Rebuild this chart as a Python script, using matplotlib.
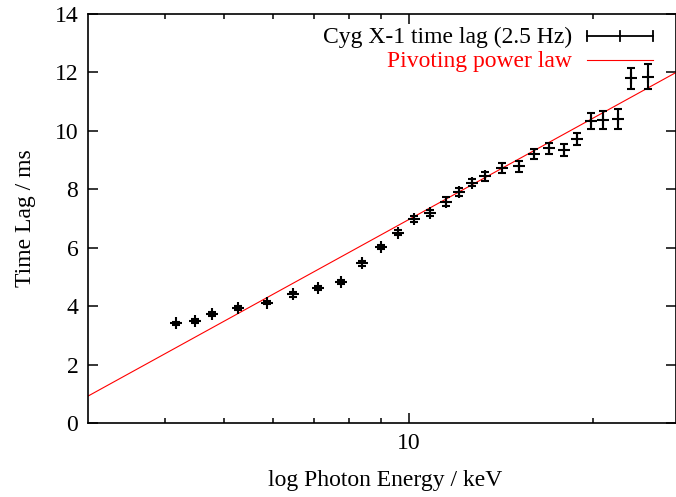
import matplotlib
matplotlib.use("Agg")
import matplotlib.pyplot as plt
import numpy as np
from matplotlib.ticker import FixedLocator, NullFormatter, FixedFormatter

# Cyg X-1 time lag at 2.5 Hz versus photon energy
energy_kev = [4.18, 4.49, 4.78, 5.26, 5.87, 6.49, 7.11, 7.76, 8.39, 9.00,
              9.62, 10.22, 10.84, 11.50, 12.09, 12.71, 13.33, 14.19, 15.14,
              16.02, 16.95, 17.94, 18.81, 19.85, 20.79, 21.94, 23.07, 24.56]
lag_ms = [3.41, 3.50, 3.72, 3.93, 4.12, 4.40, 4.61, 4.84, 5.47, 6.02,
          6.52, 6.99, 7.19, 7.58, 7.92, 8.23, 8.45, 8.72, 8.78,
          9.21, 9.41, 9.35, 9.72, 10.34, 10.38, 10.41, 11.80, 11.86]
lag_err = [0.06, 0.06, 0.07, 0.07, 0.06, 0.07, 0.07, 0.07, 0.08, 0.08,
           0.10, 0.11, 0.10, 0.15, 0.14, 0.12, 0.15, 0.17, 0.19,
           0.16, 0.19, 0.21, 0.22, 0.26, 0.30, 0.33, 0.36, 0.42]

# pivoting model: lag = offset + slope * log10(E)
model_offset = -4.59
model_slope = 11.55

x_major = [10]
x_major_labels = ["10"]
x_minor = [4, 5, 6, 7, 8, 9, 20]
y_ticks = [0, 2, 4, 6, 8, 10, 12, 14]

FS = 17
plt.rcParams["font.family"] = ["Liberation Serif", "DejaVu Serif"]
plt.rcParams["font.size"] = FS

fig = plt.figure(figsize=(6.76, 4.97), dpi=100)
ax = fig.add_axes([88 / 676, 1 - 423 / 497, 588 / 676, 409 / 497])
ax.set_xscale("log")
ax.set_xlim(3.0, 27.3)
ax.set_ylim(0, 14)

e_line = np.geomspace(3.0, 27.3, 50)
ax.plot(e_line, model_offset + model_slope * np.log10(e_line),
        color="red", lw=0.8, zorder=2)

ax.errorbar(energy_kev, lag_ms, yerr=lag_err, fmt="+", color="black",
            ms=8, mew=1.5, elinewidth=1.5, capsize=3.0, capthick=1.5, zorder=3)

ax.xaxis.set_major_locator(FixedLocator(x_major))
ax.xaxis.set_major_formatter(FixedFormatter(x_major_labels))
ax.xaxis.set_minor_locator(FixedLocator(x_minor))
ax.xaxis.set_minor_formatter(NullFormatter())
ax.set_yticks(y_ticks)
ax.tick_params(which="both", direction="in", top=True, right=True,
               width=1.1, labelsize=FS)
ax.tick_params(which="major", length=7, pad=7)
ax.tick_params(which="minor", length=3.5)
for sp in ax.spines.values():
    sp.set_linewidth(1.2)

ax.set_xlabel("log Photon Energy / keV", labelpad=12)
ax.xaxis.label.set_x(0.506)
ax.set_ylabel("Time Lag / ms", labelpad=13)

# legend drawn in axes coordinates
def ax_xy(px, py):
    return (px - 88) / 588, (423 - py) / 409

tx, ty1 = ax_xy(572, 37)
_, ty2 = ax_xy(572, 61)
ax.text(tx, ty1, "Cyg X-1 time lag (2.5 Hz)", transform=ax.transAxes,
        ha="right", va="center", color="black")
ax.text(tx, ty2, "Pivoting power law", transform=ax.transAxes,
        ha="right", va="center", color="red")
x0, _ = ax_xy(587, 0)
x1, _ = ax_xy(653, 0)
xm = (x0 + x1) / 2
_, ly1 = ax_xy(0, 36)
_, ly2 = ax_xy(0, 60)
hh = 5 / 409
ax.plot([x0, x1], [ly1, ly1], transform=ax.transAxes, color="black", lw=1.3, clip_on=False)
for xx in (x0, xm, x1):
    ax.plot([xx, xx], [ly1 - hh, ly1 + hh], transform=ax.transAxes, color="black",
            lw=1.3, clip_on=False)
ax.plot([x0, x1], [ly2, ly2], transform=ax.transAxes, color="red", lw=0.8, clip_on=False)

fig.savefig("out.png", dpi=100)
